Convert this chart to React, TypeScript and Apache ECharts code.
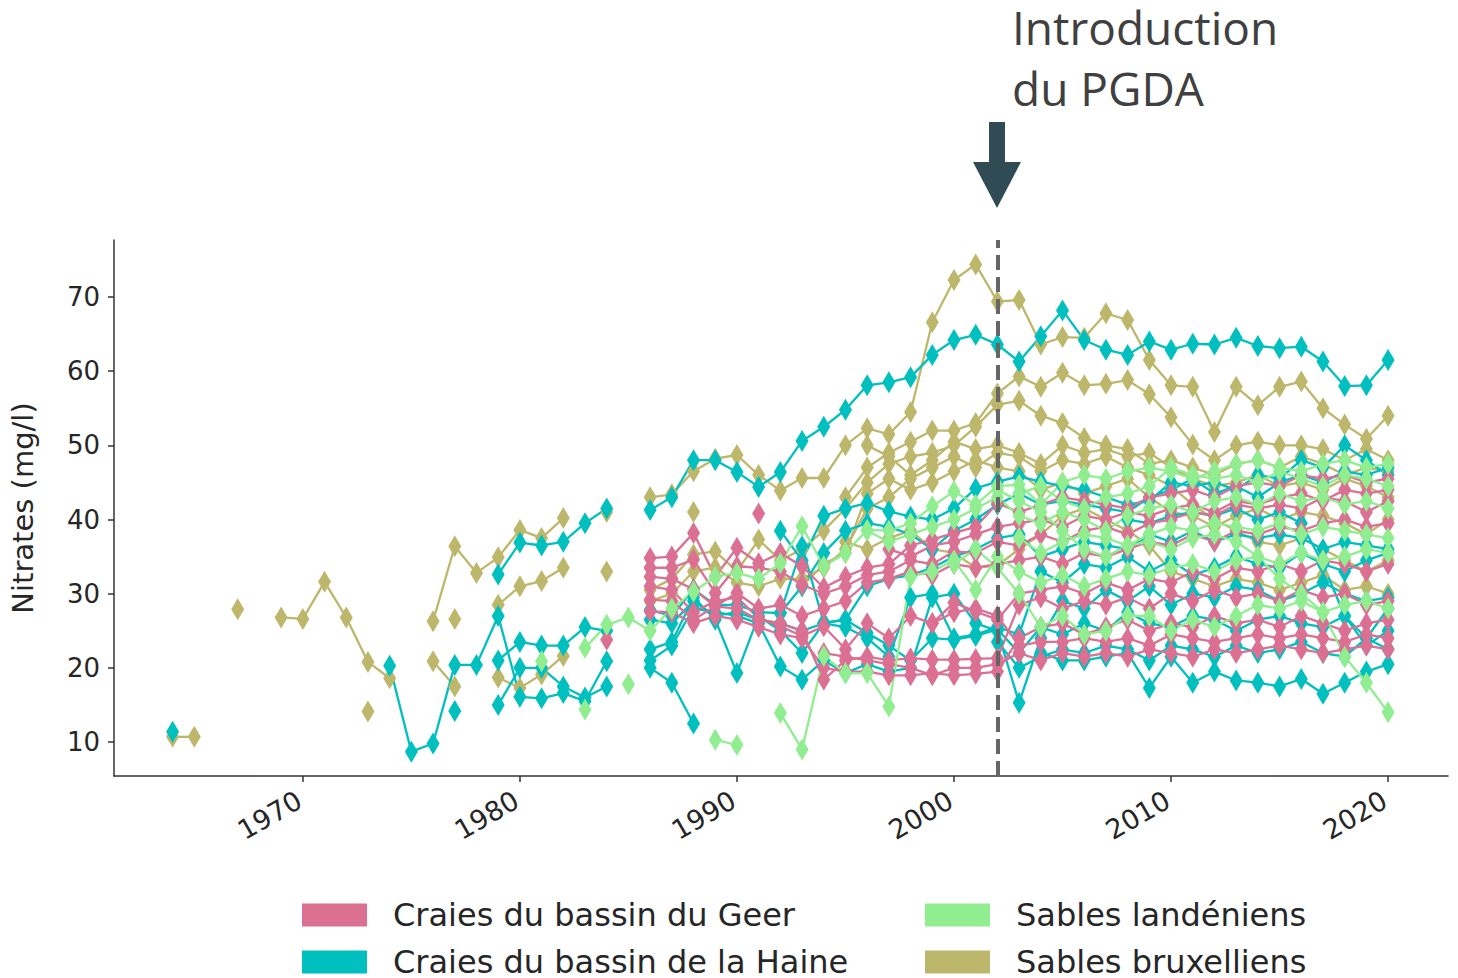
import React, { useEffect, useRef } from "react";
import * as echarts from "echarts";

// ---------- categories / labels ----------
const GROUP_GEER = "Craies du bassin du Geer";
const GROUP_HAINE = "Craies du bassin de la Haine";
const GROUP_LAND = "Sables landéniens";
const GROUP_BRUX = "Sables bruxelliens";
const COLORS: Record<string, string> = {
  [GROUP_GEER]: "#DB7093",
  [GROUP_HAINE]: "#00BFBF",
  [GROUP_LAND]: "#90EE90",
  [GROUP_BRUX]: "#BDB76B",
};
const X_TICKS = [1970, 1980, 1990, 2000, 2010, 2020];
const Y_TICKS = [10, 20, 30, 40, 50, 60, 70];
const PGDA_YEAR = 2002;
const ANNOTATION = ["Introduction", "du PGDA"];

// ---------- Sables bruxelliens (each well: first year, yearly values) ----------
const brux01 = { from: 1964, v: [10.7, 10.7] };
const brux02 = { from: 1967, v: [27.9] };
const brux03 = { from: 1969, v: [26.8, 26.6, 31.6, 26.8, 20.8, 18.6] };
const brux04 = { from: 1973, v: [14.1] };
const brux05 = { from: 1976, v: [26.3, 36.4, 32.8, 34.9, 38.6, 37.5, 40.2, null, 41.0, null, 43.0, 43.4, 46.5, 48.2, 48.7, 46.0, 43.9, 45.6, 45.6, 50.0, 52.3, 51.5, 54.5, 66.6, 72.3, 74.4, 69.4, 69.6, 63.6, 64.6, 64.5, 67.8, 66.9, 61.5, 58.1, 57.9, 51.8, 57.9, 55.4, 57.9, 58.6, 55.0, 52.8, 50.9, 54.0] };
const brux06 = { from: 1976, v: [20.9, 17.5] };
const brux07 = { from: 1977, v: [26.6] };
const brux08 = { from: 1979, v: [28.5, 31.0, 31.7, 33.5] };
const brux09 = { from: 1984, v: [33.0] };
const brux10 = { from: 1979, v: [18.7, 17.3, 19.1, 21.6] };
const brux11 = { from: 1988, v: [41.0] };
const brux12 = { from: 1986, v: [30.5, 32.0, 35.3, 35.7, 33.0, 37.3, 34.5, 36.0, 38.5, 41.5, 45.0, 47.5, 48.5, 49.0, 50.0, 52.5, 55.5, 56.0, 54.0, 53.0, 51.0, 50.0, 49.5, 47.5, 48.0, 47.0, 46.0, 47.5, 48.0, 47.0, 48.5, 47.5, 46.0, 47.0, 46.5] };
const brux13 = { from: 1986, v: [29.0, 30.0, 33.0, 33.5, 31.5, 31.0, 32.0, 32.0, 33.5, 36.0, 41.5, 43.0, 45.5, 47.0, 48.5, 47.0, 49.0, 48.5, 46.5, 48.0, 47.5, 48.5, 47.0, 46.0, 44.5, 42.0, 40.0, 38.5, 37.0, 36.5, 37.5, 36.0, 34.5, 33.0, 34.5] };
const brux14 = { from: 1995, v: [43.0, 47.0, 49.0, 50.5, 52.0, 52.0, 53.0, 57.0, 59.3, 57.9, 59.8, 58.1, 58.3, 58.8, 56.9, 53.8, 50.1, 48.0, 50.0, 50.5, 50.0, 50.0, 49.5, 48.0, 49.5, 48.0] };
const brux15 = { from: 1996, v: [50.0, 48.5, 46.0, 48.0, 50.5, 49.5, 50.0, 49.0, 47.5, 50.0, 49.0, 49.5, 48.5, 49.0, 47.0, 45.5, 44.5, 45.0, 46.0, 44.5, 45.0, 44.0, 45.5, 44.5, 43.0] };
const brux16 = { from: 1995, v: [37.0, 36.0, 37.5, 38.5, 36.0, 35.5, 33.5, 33.8, 36.0, 38.0, 40.5, 41.5, 40.0, 38.5, 36.5, 33.0, 32.0, 31.0, 32.0, 31.5, 30.5, 31.5, 32.5, 30.5, 31.0, 30.0] };
const brux17 = { from: 1993, v: [31.0, 34.0, 35.5, 43.5, 45.5, 44.0, 45.0, 46.5, 48.0, 47.0, 46.5, 44.0, 45.0, 43.5, 44.5, 45.5, 43.0, 41.0, 40.5, 39.0, 40.5, 41.5, 40.0, 41.0, 40.5, 39.5, 38.0, 40.0] };

// ---------- Craies du bassin de la Haine ----------
const haine01 = { from: 1979, v: [32.6, 36.9, 36.5, 37.0, 39.5, 41.5, null, 41.3, 43.0, 48.0, 48.0, 46.4, 44.4, 46.4, 50.6, 52.5, 54.8, 58.1, 58.5, 59.2, 62.2, 64.2, 64.9, 63.6, 61.3, 64.7, 68.2, 64.2, 62.9, 62.2, 64.0, 62.9, 63.7, 63.6, 64.5, 63.4, 63.1, 63.3, 61.3, 58.0, 58.1, 61.5] };
const haine02 = { from: 1974, v: [20.3, 8.7, 9.8, 20.4, 20.4, 27.0, 16.1, 15.9, 16.6, 15.5, 20.9] };
const haine03 = { from: 1964, v: [11.4] };
const haine04 = { from: 1977, v: [14.2] };
const haine05 = { from: 1979, v: [21.0, 23.5, 23.0, 23.0, 25.5, 25.0] };
const haine06 = { from: 1979, v: [15.0, 20.0, 20.0, 17.5, 16.0, 17.5] };
const haine07 = { from: 1986, v: [20.0, 18.0, 12.5] };
const haine08 = { from: 1992, v: [38.5, 34.5, 40.5, 41.5, 42.2, 41.1, 40.4, 40.0, 41.5, 44.2, 45.1, 45.8, 45.1, 44.5, 44.0, 43.0, 42.0, 42.5, 45.0, 44.5, 45.0, 44.0, 46.0, 45.5, 48.0, 47.0, 50.0, 48.0, 46.0] };
const haine09 = { from: 1986, v: [27.8, 27.0, 30.6, 28.5, 28.5, 27.5, 27.4, 31.0, 35.5, 38.5, 39.5, 39.0, 38.0, 36.0, 38.5, 40.0, 42.0, 43.5, 42.0, 42.5, 42.0, 41.5, 41.0, 43.0, 44.0, 45.5, 43.5, 44.5, 43.0, 45.0, 46.0, 45.0, 46.5, 46.0, 47.0] };
const haine10 = { from: 1986, v: [26.5, 26.0, 29.0, 27.0, 27.5, 26.5, 26.0, 25.0, 26.0, 26.5, 31.0, 32.0, 32.5, 33.5, 35.0, 36.0, 37.5, 38.0, 35.0, 36.0, 37.0, 36.5, 36.0, 38.0, 37.0, 38.5, 37.0, 38.0, 37.5, 38.0, 37.5, 36.0, 37.0, 36.5, 36.0] };
const haine11 = { from: 1986, v: [22.5, 23.5, 29.5, 26.5, 19.3, 27.0, 25.0, 22.0, 26.0, 25.5, 24.0, 21.5, 29.5, 30.0, 24.0, 24.5, 25.5, 24.5, 33.0, 31.5, 34.0, 33.5, 35.0, 33.0, 34.5, 32.5, 33.5, 35.0, 34.0, 33.5, 35.5, 34.0, 33.0, 34.5, 35.5] };
const haine12 = { from: 1986, v: [21.0, 23.0, 28.0, 27.5, 27.0, 26.0, 20.2, 18.4, 21.0, 19.3, 20.5, 19.5, 20.0, 29.5, 30.0, 26.0, 25.0, 15.3, 24.0, 29.0, 28.0, 30.5, 29.0, 31.0, 28.5, 30.0, 29.5, 31.0, 30.5, 29.0, 30.0, 31.5, 30.0, 29.0, 29.5] };
const haine13 = { from: 1992, v: [27.4, 36.4, 26.1, 26.5, 24.7, 23.0, 21.0, 24.0, 23.8, 24.3, 25.2, 22.0, 25.5, 24.5, 26.0, 25.0, 27.5, 26.0, 25.5, 27.0, 26.5, 25.0, 26.5, 27.0, 26.0, 25.5, 27.0, 23.0, 25.0] };
const haine14 = { from: 2002, v: [23.5, 20.0, 21.5, 22.5, 22.0, 23.0, 22.5, 21.0, 23.0, 22.5, 21.5, 23.0, 22.0, 22.5, 23.5, 22.0, 21.5, 24.0, 22.5] };
const haine15 = { from: 2004, v: [22.0, 21.0, 21.0, 21.5, 22.0, 17.3, 21.5, 18.0, 19.5, 18.3, 18.0, 17.5, 18.5, 16.5, 18.0, 19.5, 20.5] };
const haine16 = { from: 2008, v: [40.0, 39.5, 40.5, 41.0, 40.5, 41.5, 40.0, 41.0, 39.5, 34.0, 27.0, 24.0, 28.0] };

// ---------- Craies du bassin du Geer ----------
const geer01 = { from: 1984, v: [23.8] };
const geer02 = { from: 1991, v: [40.8] };
const geer03 = { from: 1986, v: [34.8, 35.0, 38.2, 32.3, 36.2, 34.1, 35.5, 33.7, 30.8, 32.3, 33.5, 34.0, 36.5, 37.3, 38.2, 39.0, 42.2, 41.0, 42.0, 43.0, 42.5, 42.0, 41.5, 43.0, 43.5, 44.0, 43.0, 44.5, 45.0, 44.5, 46.0, 45.5, 46.0, 45.0, 45.5] };
const geer04 = { from: 1986, v: [33.5, 33.5, 34.6, 30.1, 33.7, 33.5, 33.0, 31.2, 30.0, 31.0, 32.5, 33.0, 34.5, 34.0, 35.7, 35.5, 37.0, 36.5, 38.0, 37.0, 38.5, 39.0, 38.0, 39.5, 40.0, 41.0, 40.5, 42.0, 41.5, 42.0, 41.5, 43.0, 42.5, 41.0, 42.5] };
const geer05 = { from: 1986, v: [32.3, 32.0, 30.6, 28.3, 30.1, 28.0, 28.5, 27.0, 28.0, 29.0, 31.5, 32.0, 33.0, 32.5, 34.0, 33.5, 34.0, 34.5, 35.0, 34.0, 35.5, 35.0, 36.0, 37.0, 36.5, 38.0, 37.0, 38.5, 38.0, 39.0, 38.5, 39.5, 40.0, 39.0, 39.5] };
const geer06 = { from: 1986, v: [31.0, 30.5, 27.5, 29.0, 29.5, 26.7, 25.6, 24.3, 25.6, 22.5, 26.0, 24.0, 27.0, 26.0, 28.8, 27.6, 26.5, 30.0, 30.5, 31.0, 30.0, 31.5, 30.5, 32.0, 31.5, 33.0, 32.0, 33.5, 33.0, 34.0, 33.0, 34.5, 34.0, 33.0, 34.0] };
const geer07 = { from: 1986, v: [29.2, 29.0, 26.5, 28.3, 28.0, 26.5, 26.0, 25.0, 18.4, 21.0, 21.5, 21.0, 21.3, 21.1, 21.1, 21.2, 21.3, 28.5, 29.5, 28.0, 29.0, 28.5, 29.5, 28.0, 30.0, 29.0, 30.5, 29.5, 30.0, 29.0, 30.5, 29.5, 30.0, 28.5, 29.0] };
const geer08 = { from: 1986, v: [27.6, 27.5, 26.0, 27.0, 26.5, 25.5, 24.5, 24.0, 20.0, 19.5, 19.5, 19.0, 19.0, 19.3, 19.0, 19.2, 19.5, 24.0, 25.5, 26.0, 24.5, 25.5, 26.5, 25.0, 26.0, 25.5, 27.0, 26.0, 26.5, 25.5, 27.0, 26.0, 25.0, 26.0, 26.5] };
const geer09 = { from: 1994, v: [22.0, 21.5, 21.0, 20.5, 20.0, 19.0, 20.0, 20.0, 20.5, 22.0, 21.0, 22.0, 21.5, 22.0, 21.5, 22.5, 22.0, 21.5, 22.5, 22.0, 22.5, 23.0, 22.5, 22.0, 22.5, 23.0, 22.5] };
const geer10 = { from: 1999, v: [26.0, 27.5, 28.0, 27.0, 23.0, 23.5, 23.5, 24.0, 23.5, 24.0, 23.0, 24.5, 24.0, 23.5, 24.0, 24.5, 24.0, 24.5, 24.0, 23.5, 24.5, 24.0] };
const geer11 = { from: 1997, v: [36.0, 35.0, 36.5, 37.0, 38.0, 39.0, 39.5, 40.0, 39.0, 40.5, 40.0, 41.0, 40.5, 41.5, 42.0, 41.0, 42.5, 42.0, 43.0, 43.5, 42.5, 44.0, 43.5, 44.0] };

// ---------- Sables landéniens ----------
const land01 = { from: 1983, v: [22.7, 25.8, 26.8, 25.0, 28.0, 30.3, 32.3, 32.8, 32.0, 34.1, 39.1, 33.7, 35.5, 38.6, 38.5, 39.5, 41.8, 43.8, 42.0, 44.5, 44.7, 42.0, 45.0, 46.0, 45.5, 46.5, 47.0, 46.5, 45.5, 46.5, 47.5, 48.0, 47.0, 46.5, 47.5, 48.0, 47.0, 47.5] };
const land02 = { from: 1981, v: [20.9] };
const land03 = { from: 1983, v: [14.4] };
const land04 = { from: 1985, v: [17.8] };
const land05 = { from: 1989, v: [10.3, 9.6] };
const land06 = { from: 1992, v: [13.9, 9.0, 21.6, 19.3, 19.3, 14.8, 32.3, 33.0, 34.5, 30.5, 35.0, 33.0, 31.5, 32.5, 31.0, 32.0, 33.0, 32.5, 33.5, 34.0, 33.0, 34.5, 35.0, 34.0, 35.5, 34.5, 35.0, 36.0, 35.5] };
const land07 = { from: 2002, v: [44.0, 42.5, 41.0, 38.5, 36.0, 35.0, 36.5, 37.0, 36.0, 37.5, 38.0, 37.0, 35.0, 32.0, 30.0, 27.5, 21.5, 18.0, 14.0] };
const land08 = { from: 2000, v: [34.0, 36.0, 33.5, 30.0, 25.5, 27.0, 24.5, 25.0, 27.0, 27.0, 25.0, 26.5, 25.5, 27.0, 28.5, 28.0, 29.0, 27.5, 28.5, 29.0, 28.0] };
const land09 = { from: 1996, v: [38.5, 37.0, 38.0, 39.0, 40.0, 41.5, 43.0, 40.5, 39.5, 41.0, 40.0, 38.5, 40.5, 41.5, 42.0, 41.0, 42.5, 43.0, 42.0, 43.5, 42.5, 43.0, 42.0, 42.5, 41.5] };
const land10 = { from: 2003, v: [43.5, 44.5, 42.5, 41.5, 43.0, 43.5, 44.5, 47.0, 46.0, 45.5, 46.0, 45.0, 46.5, 45.5, 44.5, 46.0, 45.5, 44.5] };
const land11 = { from: 2003, v: [37.5, 35.5, 37.0, 38.0, 37.5, 36.5, 38.0, 39.0, 38.5, 39.5, 39.0, 38.5, 39.5, 38.0, 39.0, 38.5, 38.0, 37.5] };

const GROUPS: [string, { from: number; v: (number | null)[] }[]][] = [
  [GROUP_BRUX, [brux01, brux02, brux03, brux04, brux05, brux06, brux07, brux08, brux09, brux10, brux11, brux12, brux13, brux14, brux15, brux16, brux17]],
  [GROUP_HAINE, [haine01, haine02, haine03, haine04, haine05, haine06, haine07, haine08, haine09, haine10, haine11, haine12, haine13, haine14, haine15, haine16]],
  [GROUP_GEER, [geer01, geer02, geer03, geer04, geer05, geer06, geer07, geer08, geer09, geer10, geer11]],
  [GROUP_LAND, [land01, land02, land03, land04, land05, land06, land07, land08, land09, land10, land11]],
];

// legend layout: [name, column, row]
const LEGEND_CELLS: [string, number, number][] = [
  [GROUP_GEER, 0, 0],
  [GROUP_HAINE, 0, 1],
  [GROUP_LAND, 1, 0],
  [GROUP_BRUX, 1, 1],
];
const LEGEND_COL_LEFT = [302, 925];
const LEGEND_ROW_TOP = [899, 946];

const TEXT_COLOR = "#262626";
const FONT = "DejaVu Sans";

function buildOption() {
  const series: any[] = [];
  GROUPS.forEach(([name, wells]) => {
    wells.forEach((w) => {
      series.push({
        type: "line",
        name,
        data: w.v.map((y, i) => [w.from + i, y]),
        symbol: "diamond",
        symbolSize: [13, 22],
        connectNulls: false,
        lineStyle: { width: 2.3, color: COLORS[name] },
        itemStyle: { color: COLORS[name] },
        emphasis: { disabled: true },
        silent: true,
      });
    });
  });
  series.push({
    type: "line",
    name: "pgda",
    data: [],
    z: 20,
    silent: true,
    markLine: {
      silent: true,
      symbol: "none",
      label: { show: false },
      lineStyle: { color: "#666666", width: 4, type: [15, 7] },
      data: [{ xAxis: PGDA_YEAR }],
    },
  });

  const legends = LEGEND_CELLS.map(([name, col, row]) => ({
    orient: "horizontal",
    icon: "rect",
    itemWidth: 65,
    itemHeight: 23,
    padding: 0,
    selectedMode: false,
    left: LEGEND_COL_LEFT[col],
    top: LEGEND_ROW_TOP[row],
    data: [name],
    textStyle: {
      fontFamily: FONT,
      fontSize: 32,
      lineHeight: 30,
      color: TEXT_COLOR,
      padding: [0, 0, 0, 21],
    },
  }));

  return {
    animation: false,
    backgroundColor: "#ffffff",
    grid: { left: 113, right: 10, top: 240, bottom: 202 },
    legend: legends,
    xAxis: {
      type: "value",
      min: 1961.3,
      max: 2022.76,
      splitLine: { show: false },
      axisLine: { lineStyle: { color: "#333", width: 1.5 } },
      axisTick: { length: 6, lineStyle: { color: "#333", width: 1.5 }, customValues: X_TICKS },
      axisLabel: {
        customValues: X_TICKS,
        formatter: (v: number) => String(v),
        rotate: 30,
        margin: 20,
        fontSize: 27,
        fontFamily: FONT,
        color: TEXT_COLOR,
        padding: [0, 4, 0, 0],
      },
    },
    yAxis: {
      type: "value",
      min: 5.42,
      max: 77.69,
      name: "Nitrates (mg/l)",
      nameLocation: "middle",
      nameGap: 77,
      nameTextStyle: { fontSize: 29, fontFamily: FONT, color: TEXT_COLOR },
      splitLine: { show: false },
      axisLine: { show: true, lineStyle: { color: "#333", width: 1.5 } },
      axisTick: { show: true, length: 6, lineStyle: { color: "#333", width: 1.5 }, customValues: Y_TICKS },
      axisLabel: {
        customValues: Y_TICKS,
        formatter: (v: number) => String(v),
        margin: 14,
        fontSize: 26,
        fontFamily: FONT,
        color: TEXT_COLOR,
      },
    },
    graphic: [
      {
        type: "polygon",
        silent: true,
        shape: {
          points: [
            [989, 122],
            [1005, 122],
            [1005, 162],
            [1021, 162],
            [997, 208],
            [973, 162],
            [989, 162],
          ],
        },
        style: { fill: "#314B54" },
      },
      {
        type: "text",
        left: 1012,
        top: 4,
        style: {
          text: ANNOTATION[0],
          font: "46px 'Open Sans'",
          fill: "#404040",
        },
      },
      {
        type: "text",
        left: 1012,
        top: 65,
        style: {
          text: ANNOTATION[1],
          font: "46px 'Open Sans'",
          fill: "#404040",
        },
      },
    ],
    series,
  };
}

export default function App() {
  const ref = useRef<HTMLDivElement>(null);
  useEffect(() => {
    if (!ref.current) return;
    const chart = echarts.init(ref.current, undefined, { renderer: "svg" });
    chart.setOption(buildOption() as any);
    return () => chart.dispose();
  }, []);
  return (
    <div
      ref={ref}
      style={{ position: "fixed", left: 0, top: 0, width: 1458, height: 978, background: "#fff" }}
    />
  );
}
